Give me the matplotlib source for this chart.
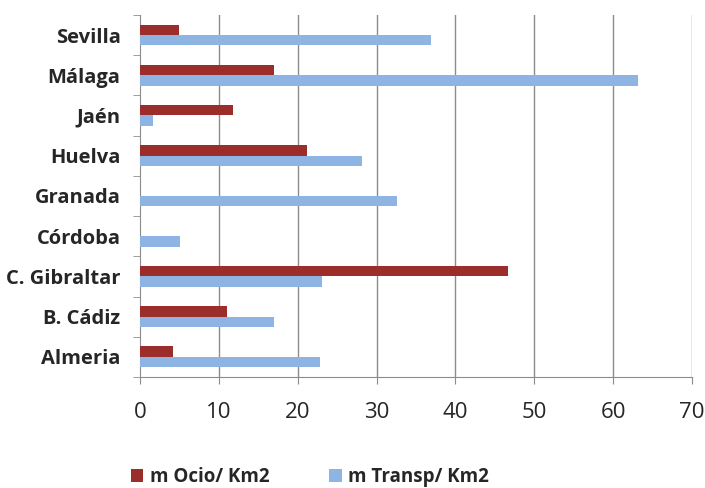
import matplotlib
matplotlib.use("Agg")
import matplotlib.pyplot as plt
import numpy as np
from matplotlib.patches import Patch

categories = ["Almeria", "B. Cádiz", "C. Gibraltar", "Córdoba", "Granada",
              "Huelva", "Jaén", "Málaga", "Sevilla"]
ocio = [4.2, 11.0, 46.7, 0, 0, 21.2, 11.8, 17.0, 5.0]
transp = [22.8, 17.0, 23.1, 5.1, 32.6, 28.1, 1.6, 63.2, 36.9]
series_names = ["m Ocio/ Km2", "m Transp/ Km2"]
xticks = [0, 10, 20, 30, 40, 50, 60, 70]

red = "#9B2D2B"
blue = "#8DB4E2"
grid_c = "#8C8C8C"
txt_c = "#262626"

plt.rcParams['font.family'] = ['Open Sans', 'DejaVu Sans']

fig = plt.figure(figsize=(7.05, 4.88), dpi=100)
ax = fig.add_axes([0.1986, 0.2275, 0.783, 0.742])

y = np.arange(len(categories))
h = 0.26
ax.barh(y + h / 2, ocio, height=h, color=red, zorder=3)
ax.barh(y - h / 2, transp, height=h, color=blue, zorder=3)

ax.set_xlim(0, 70)
ax.set_ylim(-0.5, len(categories) - 0.5)
ax.set_xticks(xticks)
ax.set_xticklabels([str(v) for v in xticks], fontsize=16, color=txt_c)
ax.set_yticks(y)
ax.set_yticklabels(categories, fontsize=14.5, fontweight='bold', color=txt_c)
ax.set_yticks(np.arange(-0.5, len(categories), 1), minor=True)
ax.tick_params(axis='y', which='major', length=0, pad=14)
ax.tick_params(axis='y', which='minor', length=5, color=grid_c, direction='out')
ax.tick_params(axis='x', length=5, color=grid_c, pad=13)

for v in xticks[1:]:
    ax.axvline(v, color=grid_c, lw=1, zorder=1)

for s in ['top', 'right']:
    ax.spines[s].set_visible(False)
ax.spines['left'].set_color(grid_c)
ax.spines['bottom'].set_color(grid_c)

handles = [Patch(facecolor=red), Patch(facecolor=blue)]
leg = fig.legend(handles, series_names, loc='center left', bbox_to_anchor=(131 / 705, 0.0225),
                 ncol=2, frameon=False, fontsize=13.5, handlelength=0.65, handleheight=0.65,
                 handletextpad=0.35, columnspacing=3.2, borderpad=0, borderaxespad=0)
for t in leg.get_texts():
    t.set_fontweight('bold')
    t.set_color(txt_c)

fig.savefig("out.png", dpi=100)
